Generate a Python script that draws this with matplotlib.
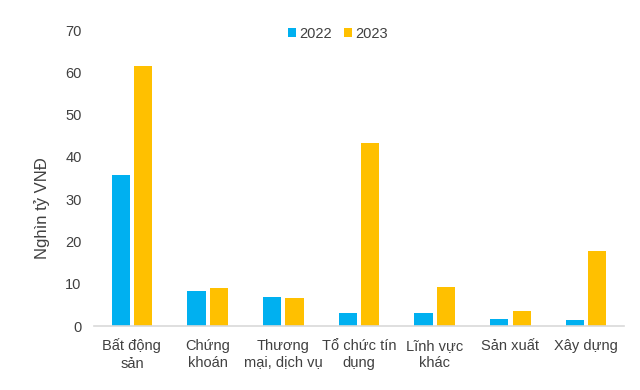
import matplotlib
matplotlib.use("Agg")
import matplotlib.pyplot as plt
import numpy as np

categories = ["Bất động\nsản", "Chứng\nkhoán", "Thương\nmại, dịch vụ", "Tổ chức tín\ndụng",
              "Lĩnh vực\nkhác", "Sản xuất", "Xây dựng"]
values_2022 = [35.6, 8.3, 6.9, 3.0, 3.0, 1.6, 1.4]
values_2023 = [61.4, 8.9, 6.7, 43.3, 9.3, 3.5, 17.7]
series_labels = ["2022", "2023"]
yticks = [0, 10, 20, 30, 40, 50, 60, 70]

plt.rcParams['font.family'] = ['Liberation Sans', 'DejaVu Sans']

fig = plt.figure(figsize=(6.4, 3.9), dpi=100)
ax = fig.add_axes([0.147, 0.164, 0.828, 0.759])

x = np.arange(len(categories))
w = 0.24
gap = 0.055
ax.bar(x - (w + gap) / 2, values_2022, w, color="#00B0F0", label=series_labels[0])
ax.bar(x + (w + gap) / 2, values_2023, w, color="#FFC000", label=series_labels[1])

ax.set_xlim(-0.5, len(categories) - 0.5)
ax.set_ylim(0, 70)
ax.set_yticks(yticks)
ax.set_xticks(x)
ax.set_xticklabels(categories, fontsize=10.5, color="#404040", linespacing=1.3)
ax.tick_params(axis='y', labelsize=10.5, labelcolor="#404040", length=0, pad=9)
ax.tick_params(axis='x', length=0, pad=9)

for s in ["top", "right", "left"]:
    ax.spines[s].set_visible(False)
ax.spines["bottom"].set_color("#D9D9D9")
ax.spines["bottom"].set_linewidth(1.2)

ax.set_ylabel("Nghìn tỷ VNĐ", fontsize=12, color="#404040")
ax.yaxis.set_label_coords(-0.083, 0.40)

leg = ax.legend(loc="upper center", bbox_to_anchor=(0.46, 1.055), ncol=2, frameon=False,
                fontsize=10.5, handlelength=0.6, handleheight=0.6, handletextpad=0.2,
                columnspacing=0.8)
for t in leg.get_texts():
    t.set_color("#404040")

fig.savefig("out.png", dpi=100)
